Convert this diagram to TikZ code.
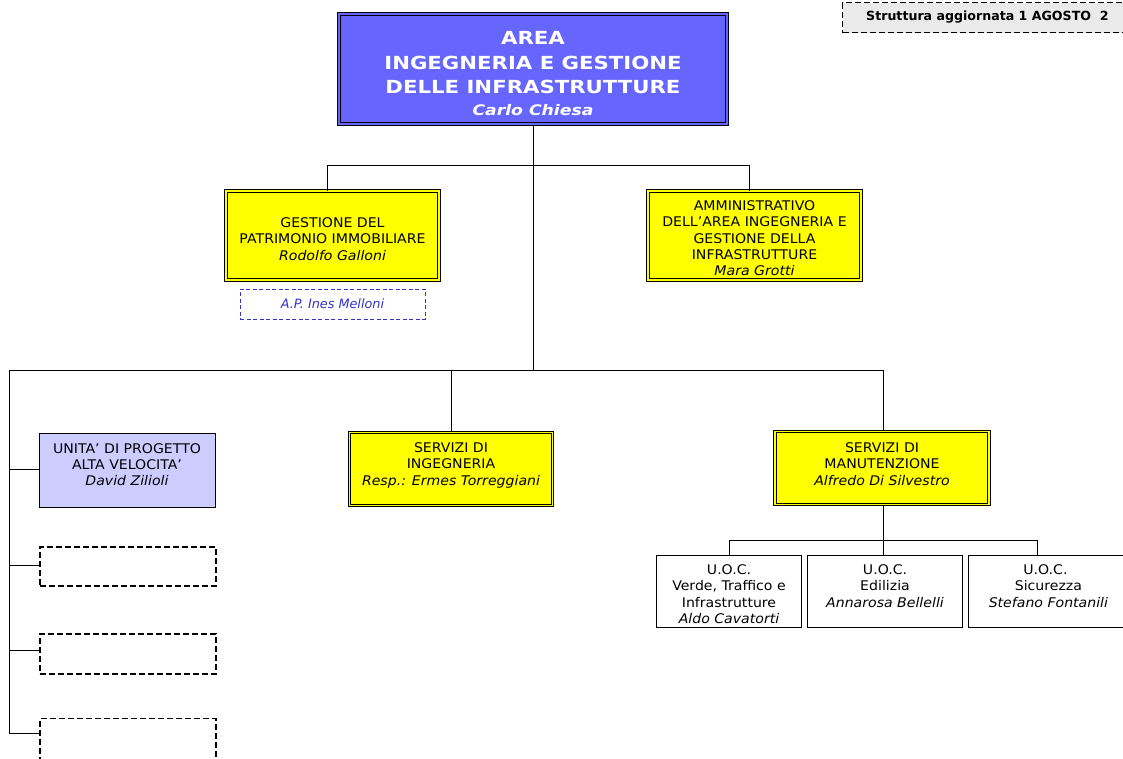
\documentclass[tikz,border=0pt]{standalone}
\usepackage{fontspec}
\setmainfont{DejaVu Sans}[FakeStretch=1.06]
\newfontfamily\headfont{DejaVu Sans}[FakeStretch=1.18]
\newfontfamily\plainfont{DejaVu Sans}
\definecolor{areablue}{HTML}{6666FF}
\definecolor{boxyellow}{HTML}{FFFF00}
\definecolor{unitlilac}{HTML}{CCCCFF}
\definecolor{apblue}{HTML}{3333CC}
\definecolor{notegray}{HTML}{EAEAEA}
% box text: a top-aligned paragraph of given height and width, centred in its node
\newcommand\boxlines[3]{\parbox[c][#1][t]{#2}{\centering #3}}
\begin{document}
\begin{tikzpicture}[x=1pt,y=-1pt,
  conn/.style={line width=0.9pt, black},
  areabox/.style={draw=black, line width=1.1pt, double=areablue, double distance=1.8pt,
    fill=areablue, text=white, align=center, inner sep=0pt,
    font=\headfont\fontsize{18}{24.5}\selectfont\bfseries},
  yellowbox/.style={draw=black, line width=1pt, double=boxyellow, double distance=1.6pt,
    fill=boxyellow, inner sep=0pt, font=\fontsize{13.3}{16.4}\selectfont},
  plainbox/.style={draw=black, line width=0.8pt, fill=white, inner sep=0pt,
    font=\fontsize{13.3}{16.2}\selectfont},
  emptybox/.style={draw=black, line width=1.3pt, dash pattern=on 6pt off 3pt, fill=white,
    inner sep=0pt},
  apbox/.style={draw=apblue, line width=1pt, dash pattern=on 4pt off 2.5pt, fill=white,
    text=apblue, inner sep=0pt, font=\plainfont\fontsize{12.8}{14}\selectfont\itshape},
  notebox/.style={draw=black, line width=1.1pt, dash pattern=on 6pt off 3pt, fill=notegray,
    inner sep=0pt},
  notefont/.style={font=\plainfont\fontsize{12.6}{14}\selectfont\bfseries}
]
\useasboundingbox (0,0) rectangle (1123,758);

% date note in the top corner
\node[notebox, minimum width=300pt, minimum height=30pt, anchor=north west] (note) at (842,2) {};
\node[notefont, anchor=west, inner sep=0pt] (notetext) at (866,17.5) {Struttura aggiornata 1 AGOSTO\ \ 2};

% head of the area
\node[areabox, minimum width=388pt, minimum height=110pt] (area) at (533,69)
  {\boxlines{75pt}{380pt}{AREA\\INGEGNERIA E GESTIONE\\DELLE INFRASTRUTTURE\par
   \vspace{4pt}{\itshape\fontsize{14.6}{18}\selectfont Carlo Chiesa\par}}};

% staff offices
\node[yellowbox, minimum width=213pt, minimum height=89pt] (patr) at (332.5,235.5)
  {\boxlines{36pt}{210pt}{GESTIONE DEL\\PATRIMONIO IMMOBILIARE\\\itshape Rodolfo Galloni}};
\node[apbox, minimum width=185pt, minimum height=30pt] (ap) at (332.5,304) {A.P. Ines Melloni};
\node[yellowbox, minimum width=213pt, minimum height=89pt] (amm) at (754.5,235.5)
  {\boxlines{70pt}{210pt}{AMMINISTRATIVO\\DELL’AREA INGEGNERIA E\\GESTIONE DELLA\\INFRASTRUTTURE\\\itshape Mara Grotti}};

% line units
\node[plainbox, fill=unitlilac, minimum width=176pt, minimum height=74pt] (uav) at (127,470)
  {\boxlines{53pt}{174pt}{UNITA’ DI PROGETTO\\ALTA VELOCITA’\\\itshape David Zilioli}};
\node[emptybox, minimum width=176pt, minimum height=39pt] (e1) at (128,566.5) {};
\node[emptybox, minimum width=176pt, minimum height=40pt] (e2) at (128,654) {};
\node[emptybox, minimum width=176pt, minimum height=60pt, anchor=north] (e3) at (128,718) {};

\node[yellowbox, minimum width=203pt, minimum height=73pt] (ing) at (451,469)
  {\boxlines{53pt}{200pt}{SERVIZI DI\\INGEGNERIA\\\itshape Resp.: Ermes Torreggiani}};
\node[yellowbox, minimum width=214pt, minimum height=73pt] (man) at (882,468)
  {\boxlines{51pt}{210pt}{SERVIZI DI\\MANUTENZIONE\\\itshape Alfredo Di Silvestro}};

% U.O.C. under the maintenance services
\node[plainbox, minimum width=145pt, minimum height=72pt, anchor=north] (uoc1) at (729,555)
  {\boxlines{53pt}{143pt}{U.O.C.\\Verde, Traffico e\\Infrastrutture\\\itshape Aldo Cavatorti}};
\node[plainbox, minimum width=155pt, minimum height=72pt, anchor=north] (uoc2) at (885,555)
  {\boxlines{53pt}{153pt}{U.O.C.\\Edilizia\\\itshape Annarosa Bellelli}};
\node[plainbox, minimum width=160pt, minimum height=72pt, anchor=north west] (uoc3) at (968,555)
  {\boxlines{53pt}{153pt}{\hspace*{-6pt}U.O.C.\\Sicurezza\\\itshape Stefano Fontanili}};

% connectors: head to staff offices
\coordinate (busA) at (533,165);
\coordinate (patrin) at ([xshift=-5.5pt]patr.north);
\coordinate (ammin) at ([xshift=-5.5pt]amm.north);
\draw[conn] (area.south) -- (533,370);
\draw[conn] (patrin) -- (patrin |- busA) -- (ammin |- busA) -- (ammin);

% connectors: head to line units
\coordinate (busB) at (533,370);
\coordinate (lefttop) at (9,370);
\coordinate (leftbot) at (9,733);
\coordinate (manin) at ([xshift=1pt]man.north);
\draw[conn] (lefttop) -- (manin |- busB) -- (manin);
\draw[conn] (ing.north |- busB) -- (ing.north);
\draw[conn] (lefttop) -- (leftbot);
\draw[conn] (9,469) -- (uav.west |- 0,469);
\draw[conn] (9,565) -- (e1.west |- 0,565);
\draw[conn] (9,650) -- (e2.west |- 0,650);
\draw[conn] (leftbot) -- (e3.west |- leftbot);

% connectors: maintenance services to U.O.C.
\coordinate (manout) at ([xshift=1pt]man.south);
\coordinate (busC) at (manout |- 0,540);
\draw[conn] (manout) -- (busC) -- (busC |- uoc2.north);
\draw[conn] (uoc1.north) -- (uoc1.north |- busC) -- (1037,540) -- (1037,555);
\end{tikzpicture}
\end{document}
